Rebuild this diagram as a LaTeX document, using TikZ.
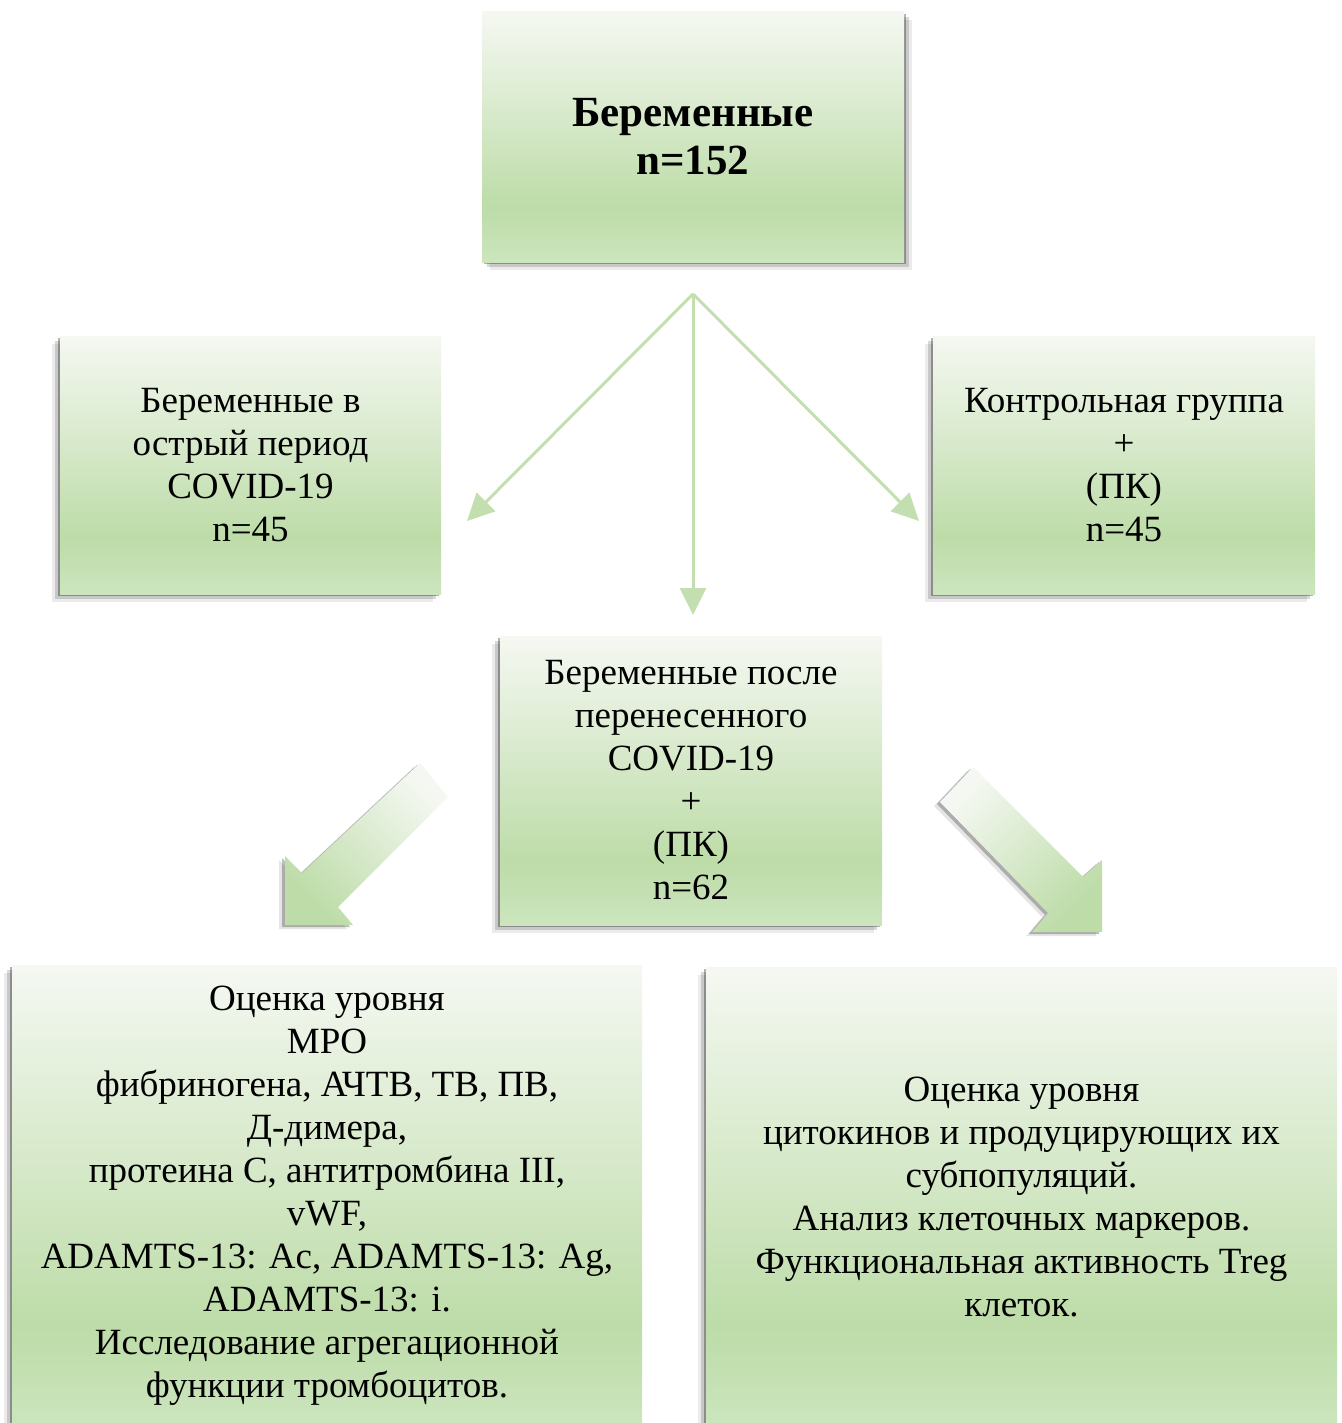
\documentclass[tikz,border=0pt]{standalone}
\usepackage{fontspec}
\setmainfont{Liberation Serif}
\usepackage{xcolor}
\usepackage{tikz}
\usetikzlibrary{arrows.meta,shadows,positioning}

\definecolor{gtop}{HTML}{F5F8F2}
\definecolor{gmid}{HTML}{BDDCA8}
\definecolor{gbot}{HTML}{CCE5BE}
\definecolor{arrgreen}{HTML}{C3DFB0}
\pgfdeclareverticalshading{boxgrad}{100bp}{color(0bp)=(gbot); color(25bp)=(gbot); color(36bp)=(gmid); color(75bp)=(gtop); color(100bp)=(gtop)}

\tikzset{
  box/.style={shading=boxgrad, inner sep=0pt, align=center, font=\fontsize{18.5}{21.5}\selectfont},
  shadowleft/.style={drop shadow={shadow xshift=-4pt, shadow yshift=-4pt, opacity=.08, fill=black},
                     drop shadow={shadow xshift=-2.5pt, shadow yshift=-2.5pt, opacity=.15, fill=black},
                     drop shadow={shadow xshift=-1.2pt, shadow yshift=-1.2pt, opacity=.3, fill=black}},
  shadowright/.style={drop shadow={shadow xshift=4pt, shadow yshift=-4pt, opacity=.08, fill=black},
                      drop shadow={shadow xshift=2.5pt, shadow yshift=-2.5pt, opacity=.15, fill=black},
                      drop shadow={shadow xshift=1.2pt, shadow yshift=-1.2pt, opacity=.3, fill=black}},
  thinarrow/.style={draw=arrgreen, line width=1.5pt, -{Triangle[length=13.5pt,width=13pt]}},
  bigarrow/.style={drop shadow={shadow xshift=-3pt, shadow yshift=-2pt, opacity=.1, fill=black},
                   drop shadow={shadow xshift=-1.5pt, shadow yshift=-1pt, opacity=.25, fill=black}}
}

\begin{document}
\begin{tikzpicture}[x=0.5pt, y=-0.5pt]
        \useasboundingbox (0,0) rectangle (1341,1423);

        % groups
        \node[box, shadowright, minimum width=211pt, minimum height=125pt, font=\fontsize{21.5}{24}\selectfont\bfseries]
            (all) at (693,137) {Беременные\\n=152};
        \node[box, shadowleft, minimum width=190.5pt, minimum height=129pt]
            (acute) at (250.5,465) {Беременные в\\острый период\\COVID-19\\n=45};
        \node[box, shadowleft, minimum width=191pt, minimum height=129pt]
            (control) at (1124,465) {Контрольная группа\\+\\(ПК)\\n=45};
        \node[box, shadowleft, minimum width=191pt, minimum height=144.5pt]
            (after) at (691,780.5) {Беременные после\\перенесенного\\COVID-19\\+\\(ПК)\\n=62};

        % methods
        \node[box, shadowleft, minimum width=315pt, minimum height=231pt]
            (hemo) at (327,1196) {Оценка уровня\\MPO\\фибриногена, АЧТВ, ТВ, ПВ,\\Д-димера,\\протеина С, антитромбина III,\\vWF,\\ADAMTS-13: Ac, ADAMTS-13: Ag,\\ADAMTS-13: i.\\Исследование агрегационной\\функции тромбоцитов.};
        \node[box, shadowleft, minimum width=315.5pt, minimum height=230pt]
            (immuno) at (1021.5,1197) {Оценка уровня\\цитокинов и продуцирующих их\\субпопуляций.\\Анализ клеточных маркеров.\\Функциональная активность Treg\\клеток.};

        % thin arrows
        \coordinate (hub) at (693,294);
        \coordinate (acuteend) at (467,521);
        \coordinate (afterend) at (693,615);
        \coordinate (controlend) at (919,521);
        \draw[thinarrow] (hub) -- (acuteend);
        \draw[thinarrow] (hub) -- (afterend);
        \draw[thinarrow] (hub) -- (controlend);

        % block arrows
        \shade[bigarrow, top color=gtop, bottom color=gmid, shading angle=-45]
            (420,763) -- (302,873) -- (285,856) -- (285,925) -- (353,925) -- (338,907) -- (448,797) -- cycle;
        \shade[bigarrow, top color=gtop, bottom color=gmid, shading angle=45]
            (973,767) -- (1083,877) -- (1102,860) -- (1102,932) -- (1032,932) -- (1048,913) -- (940,802) -- cycle;
    \end{tikzpicture}
\end{document}
